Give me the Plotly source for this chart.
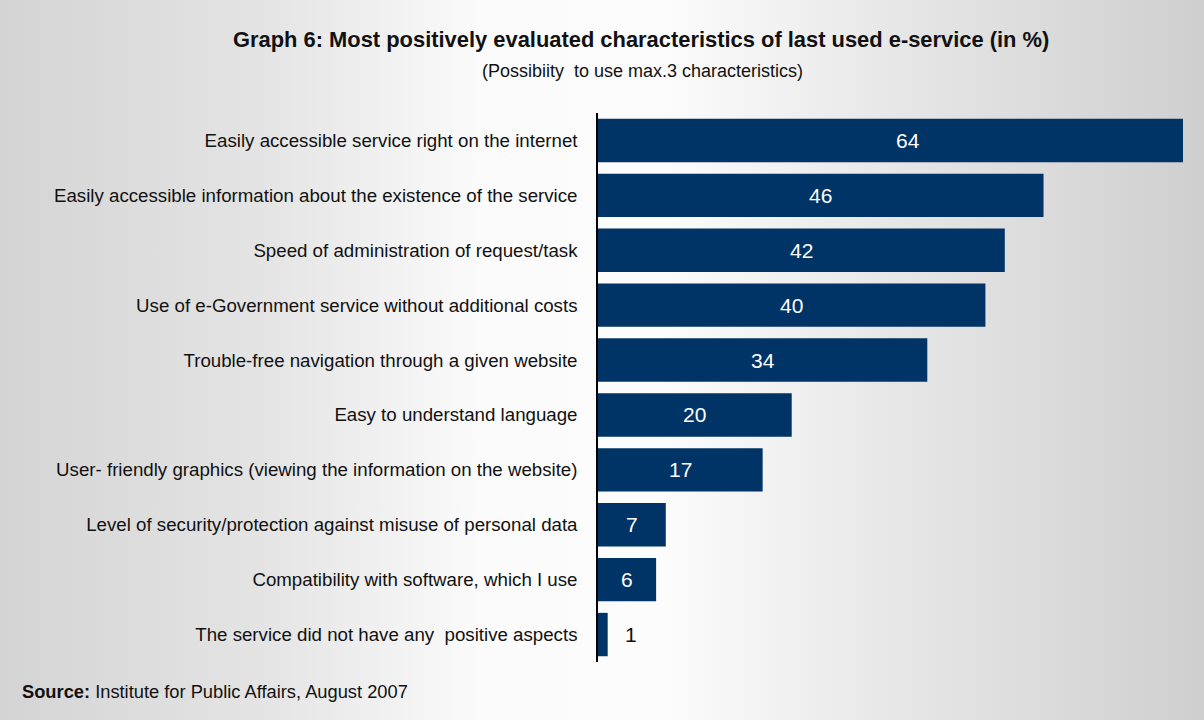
import base64
import plotly.graph_objects as go

# Survey results: share of respondents (%) naming each characteristic
categories = [
    "Easily accessible service right on the internet",
    "Easily accessible information about the existence of the service",
    "Speed of administration of request/task",
    "Use of e-Government service without additional costs",
    "Trouble-free navigation through a given website",
    "Easy to understand language",
    "User- friendly graphics (viewing the information on the website)",
    "Level of security/protection against misuse of personal data",
    "Compatibility with software, which I use",
    "The service did not have any  positive aspects",
]
values = [64, 46, 42, 40, 34, 20, 17, 7, 6, 1]

title_text = "<b>Graph 6: Most positively evaluated characteristics of last used e-service (in %)</b>"
subtitle_text = "(Possibiity  to use max.3 characteristics)"
source_text = "<b>Source:</b> Institute for Public Affairs, August 2007"

# Figure geometry
W, H = 1204, 720
ML, MR, MT, MB = 598, 21, 113, 58
PW, PH = W - ML - MR, H - MT - MB

FONT = "Liberation Sans, Arial, sans-serif"
BAR_COLOR = "#003366"


def px_x(px):
    return (px - ML) / PW


def px_y(py):
    return (H - MB - py) / PH


# Horizontal grey-white-grey backdrop as an inline SVG gradient
svg = (
    "<svg xmlns='http://www.w3.org/2000/svg' width='1204' height='720' preserveAspectRatio='none'>"
    "<defs><linearGradient id='g' x1='0' x2='1' y1='0' y2='0'>"
    "<stop offset='0' stop-color='#d4d4d4'/>"
    "<stop offset='0.22' stop-color='#e4e4e4'/>"
    "<stop offset='0.40' stop-color='#fbfbfb'/>"
    "<stop offset='0.55' stop-color='#fcfcfc'/>"
    "<stop offset='0.75' stop-color='#e6e6e6'/>"
    "<stop offset='1' stop-color='#cfcfcf'/>"
    "</linearGradient></defs>"
    "<rect width='1204' height='720' fill='url(#g)'/></svg>"
)
bg_src = "data:image/svg+xml;base64," + base64.b64encode(svg.encode()).decode()

fig = go.Figure(
    go.Bar(
        x=values,
        y=categories,
        orientation="h",
        marker=dict(color=BAR_COLOR, line=dict(width=0)),
        width=0.79,
        hoverinfo="x+y",
    )
)

annotations = []
for cat, v in zip(categories, values):
    if v >= 5:
        annotations.append(dict(
            x=v / 2, y=cat, xref="x", yref="y", text=str(v), showarrow=False,
            font=dict(family=FONT, size=21, color="white"),
            xanchor="center", yanchor="middle",
        ))
    else:
        annotations.append(dict(
            x=v, y=cat, xref="x", yref="y", text=str(v), showarrow=False,
            font=dict(family=FONT, size=21, color="#111111"),
            xanchor="left", yanchor="middle", xshift=15,
        ))

annotations += [
    dict(x=px_x(641), y=px_y(40), xref="paper", yref="paper", text=title_text,
         showarrow=False, xanchor="center", yanchor="middle",
         font=dict(family=FONT, size=21.9, color="#111111")),
    dict(x=px_x(642), y=px_y(71), xref="paper", yref="paper", text=subtitle_text,
         showarrow=False, xanchor="center", yanchor="middle",
         font=dict(family=FONT, size=18, color="#111111")),
    dict(x=px_x(20), y=px_y(691), xref="paper", yref="paper", text=source_text,
         showarrow=False, xanchor="left", yanchor="middle",
         font=dict(family=FONT, size=18.3, color="#111111")),
]

fig.update_layout(
    width=W, height=H,
    margin=dict(l=ML, r=MR, t=MT, b=MB, pad=0, autoexpand=False),
    paper_bgcolor="rgba(0,0,0,0)",
    plot_bgcolor="rgba(0,0,0,0)",
    showlegend=False,
    bargap=0.21,
    font=dict(family=FONT, size=18, color="#111111"),
    images=[dict(
        source=bg_src, xref="paper", yref="paper",
        x=-ML / PW, y=1 + MT / PH, sizex=W / PW, sizey=H / PH,
        xanchor="left", yanchor="top", sizing="stretch", layer="below",
    )],
    annotations=annotations,
    xaxis=dict(range=[0, 60.4], showticklabels=False, showgrid=False,
               zeroline=False, showline=False, fixedrange=True,
               automargin=False),
    yaxis=dict(autorange="reversed", showgrid=False, zeroline=False,
               showline=True, linecolor="#000000", linewidth=1.5,
               ticks="", ticklabelstandoff=15, automargin=False,
               tickfont=dict(family=FONT, size=18.7, color="#111111"),
               fixedrange=True),
)

fig.write_html("out.html")
